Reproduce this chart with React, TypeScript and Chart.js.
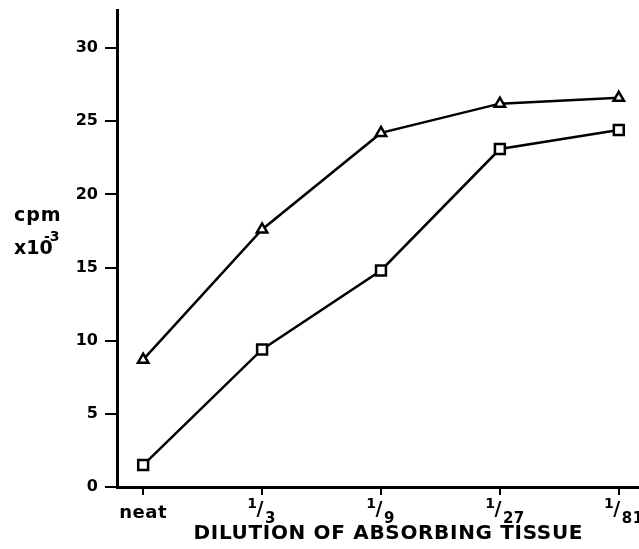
import React, { useEffect, useRef } from 'react';
import { Chart, registerables } from 'chart.js';

Chart.register(...registerables);

const categories = ['neat', '1/3', '1/9', '1/27', '1/81'];
const triangleValues = [8.7, 17.6, 24.2, 26.2, 26.6];
const squareValues = [1.5, 9.4, 14.8, 23.1, 24.4];
const yTickValues = [0, 5, 10, 15, 20, 25, 30];
const xTitle = 'DILUTION OF ABSORBING TISSUE';
const yTitleTop = 'cpm';
const yTitleBottom = 'x10';
const yTitleExp = '-3';

const FONT = '"DejaVu Sans", sans-serif';

const textPlugin = {
  id: 'textPlugin',
  afterDraw(chart: any) {
    const ctx = chart.ctx as CanvasRenderingContext2D;
    const ys = chart.scales.y;
    const xs = chart.scales.x;
    const area = chart.chartArea;
    const bottom = area.bottom;
    ctx.save();
    ctx.fillStyle = '#000';
    ctx.textBaseline = 'alphabetic';
    // x tick labels
    categories.forEach((c, i) => {
      const px = xs.getPixelForValue(i);
      if (!c.includes('/')) {
        ctx.font = `bold 18px ${FONT}`;
        ctx.textAlign = 'center';
        (ctx as any).letterSpacing = '0.5px';
        ctx.fillText(c, px, bottom + 31);
        return;
      }
      const [num, den] = c.split('/');
      (ctx as any).letterSpacing = '0px';
      ctx.font = `bold 14px ${FONT}`;
      ctx.textAlign = 'right';
      ctx.fillText(num, px - 5, bottom + 21);
      ctx.font = `bold 19px ${FONT}`;
      ctx.textAlign = 'center';
      ctx.fillText('/', px - 2, bottom + 28);
      ctx.font = `bold 15px ${FONT}`;
      ctx.textAlign = 'left';
      (ctx as any).letterSpacing = '0.5px';
      ctx.fillText(den, px + 3, bottom + 36);
    });
    // y title
    ctx.textAlign = 'left';
    const base = ys.getPixelForValue(18);
    ctx.font = `bold 19px ${FONT}`;
    (ctx as any).letterSpacing = '1px';
    ctx.fillText(yTitleTop, 14, base - 3);
    (ctx as any).letterSpacing = '0px';
    ctx.fillText(yTitleBottom, 14, base + 30);
    ctx.font = `bold 14px ${FONT}`;
    ctx.fillText(yTitleExp, 44, base + 17);
    // x title
    ctx.font = `bold 20px ${FONT}`;
    (ctx as any).letterSpacing = '0px';
    const w0 = ctx.measureText(xTitle).width;
    const target = 389;
    const sp = (target - w0) / (xTitle.length - 1);
    (ctx as any).letterSpacing = `${sp}px`;
    const cx = (area.left + area.right) / 2 + 10;
    ctx.fillText(xTitle, cx - target / 2, bottom + 52);
    ctx.restore();
  },
};

export default function App() {
  const ref = useRef<HTMLCanvasElement>(null);
  useEffect(() => {
    if (!ref.current) return;
    const mk = (vals: number[]) => vals.map((v, i) => ({ x: i, y: v }));
    const chart = new Chart(ref.current, {
      type: 'line',
      data: {
        datasets: [
          {
            label: 'triangle',
            data: mk(triangleValues),
            borderColor: '#000',
            borderWidth: 2.5,
            pointStyle: 'triangle',
            pointRadius: 6,
            pointBorderWidth: 2.5,
            pointBackgroundColor: '#fff',
            pointBorderColor: '#000',
            tension: 0,
          },
          {
            label: 'square',
            data: mk(squareValues),
            borderColor: '#000',
            borderWidth: 2.5,
            pointStyle: 'rect',
            pointRadius: 7,
            pointBorderWidth: 2.5,
            pointBackgroundColor: '#fff',
            pointBorderColor: '#000',
            tension: 0,
          },
        ],
      },
      options: {
        animation: false,
        responsive: false,
        devicePixelRatio: 1,
        layout: { autoPadding: false, padding: { top: 10, right: 0, left: 0, bottom: 0 } },
        plugins: { legend: { display: false }, tooltip: { enabled: false } },
        scales: {
          x: {
            type: 'linear',
            min: -0.22,
            max: 4.17,
            afterBuildTicks: (scale: any) => {
              scale.ticks = categories.map((_, i) => ({ value: i }));
            },
            afterFit: (scale: any) => {
              scale.height = 62;
              scale.paddingLeft = 0;
              scale.paddingRight = 0;
            },
            ticks: {
              display: false,
            },
            grid: {
              drawOnChartArea: false,
              drawTicks: true,
              tickLength: 8,
              color: '#000',
              lineWidth: 2,
            },
            border: { color: '#000', width: 3 },
          },
          y: {
            type: 'linear',
            min: 0,
            max: 32.6,
            afterBuildTicks: (scale: any) => {
              scale.ticks = yTickValues.map((v) => ({ value: v }));
            },
            afterFit: (scale: any) => {
              scale.width = 117;
              scale.paddingTop = 0;
              scale.paddingBottom = 0;
            },
            ticks: {
              color: '#000',
              font: { family: FONT, size: 16, weight: 'bold' },
              padding: 7,
            },
            grid: {
              drawOnChartArea: false,
              drawTicks: true,
              tickLength: 12,
              color: '#000',
              lineWidth: 2,
            },
            border: { color: '#000', width: 3 },
          },
        },
      },
      plugins: [textPlugin],
    });
    return () => chart.destroy();
  }, []);
  return (
    <div style={{ position: 'fixed', left: 0, top: 0, width: 639, height: 549, background: '#fff' }}>
      <canvas ref={ref} width={639} height={549} style={{ width: 639, height: 549 }} />
    </div>
  );
}
